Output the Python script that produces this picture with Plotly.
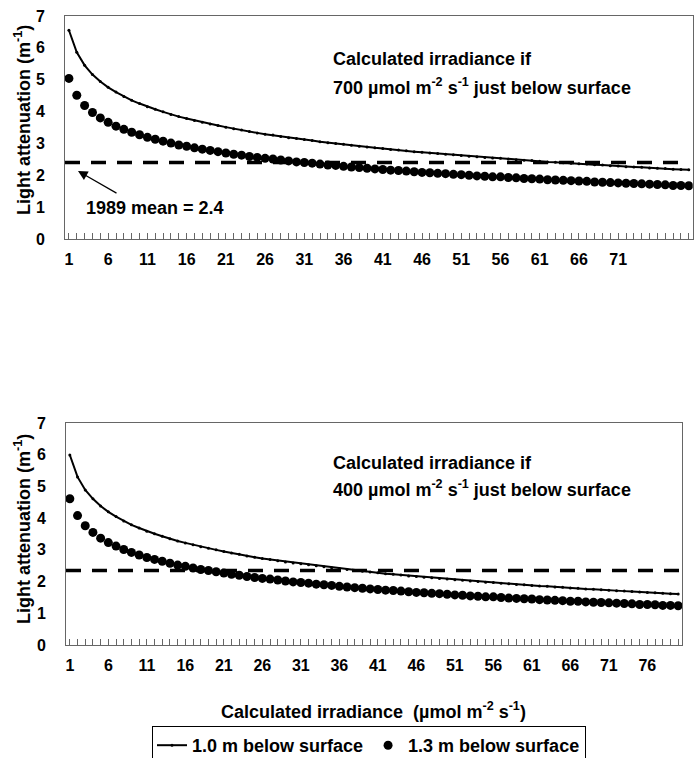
import plotly.graph_objects as go

# Calculated irradiance (umol m-2 s-1), x categories 1..80
irradiance = list(range(1, 81))

# Top panel: 700 umol m-2 s-1 just below surface
top_1m0 = [6.55, 5.86, 5.45, 5.16, 4.94, 4.76, 4.61, 4.47, 4.35, 4.25,
           4.15, 4.07, 3.99, 3.91, 3.84, 3.78, 3.72, 3.66, 3.61, 3.56,
           3.51, 3.46, 3.42, 3.37, 3.33, 3.29, 3.26, 3.22, 3.18, 3.15,
           3.12, 3.09, 3.05, 3.02, 3.00, 2.97, 2.94, 2.91, 2.89, 2.86,
           2.84, 2.81, 2.79, 2.77, 2.74, 2.72, 2.70, 2.68, 2.66, 2.64,
           2.62, 2.60, 2.58, 2.56, 2.54, 2.53, 2.51, 2.49, 2.47, 2.46,
           2.44, 2.42, 2.41, 2.39, 2.38, 2.36, 2.35, 2.33, 2.32, 2.30,
           2.29, 2.27, 2.26, 2.25, 2.23, 2.22, 2.21, 2.19, 2.18, 2.17]
top_1m3 = [5.04, 4.51, 4.19, 3.97, 3.80, 3.66, 3.54, 3.44, 3.35, 3.27,
           3.19, 3.13, 3.07, 3.01, 2.95, 2.91, 2.86, 2.82, 2.78, 2.74,
           2.70, 2.66, 2.63, 2.59, 2.56, 2.53, 2.51, 2.48, 2.45, 2.42,
           2.40, 2.38, 2.35, 2.32, 2.31, 2.28, 2.26, 2.24, 2.22, 2.20,
           2.18, 2.16, 2.15, 2.13, 2.11, 2.09, 2.08, 2.06, 2.05, 2.03,
           2.02, 2.00, 1.98, 1.97, 1.95, 1.95, 1.93, 1.92, 1.90, 1.89,
           1.88, 1.86, 1.85, 1.84, 1.83, 1.82, 1.81, 1.79, 1.78, 1.77,
           1.76, 1.75, 1.74, 1.73, 1.72, 1.71, 1.70, 1.68, 1.68, 1.67]

# Bottom panel: 400 umol m-2 s-1 just below surface
bot_1m0 = [5.99, 5.30, 4.89, 4.61, 4.38, 4.20, 4.05, 3.91, 3.79, 3.69,
           3.59, 3.51, 3.43, 3.35, 3.28, 3.22, 3.16, 3.10, 3.05, 3.00,
           2.95, 2.90, 2.86, 2.81, 2.77, 2.73, 2.70, 2.66, 2.62, 2.59,
           2.56, 2.53, 2.50, 2.47, 2.44, 2.41, 2.38, 2.35, 2.33, 2.30,
           2.28, 2.25, 2.23, 2.21, 2.18, 2.16, 2.14, 2.12, 2.10, 2.08,
           2.06, 2.04, 2.02, 2.00, 1.98, 1.97, 1.95, 1.93, 1.91, 1.90,
           1.88, 1.86, 1.85, 1.83, 1.82, 1.80, 1.79, 1.77, 1.76, 1.74,
           1.73, 1.71, 1.70, 1.69, 1.67, 1.66, 1.65, 1.63, 1.62, 1.61]
bot_1m3 = [4.61, 4.08, 3.76, 3.55, 3.37, 3.23, 3.12, 3.01, 2.92, 2.84,
           2.76, 2.70, 2.64, 2.58, 2.52, 2.48, 2.43, 2.38, 2.35, 2.31,
           2.27, 2.23, 2.20, 2.16, 2.13, 2.10, 2.08, 2.05, 2.02, 1.99,
           1.97, 1.95, 1.92, 1.90, 1.88, 1.85, 1.83, 1.81, 1.79, 1.77,
           1.75, 1.73, 1.72, 1.70, 1.68, 1.66, 1.65, 1.63, 1.62, 1.60,
           1.58, 1.57, 1.55, 1.54, 1.52, 1.52, 1.50, 1.48, 1.47, 1.46,
           1.45, 1.43, 1.42, 1.41, 1.40, 1.38, 1.38, 1.36, 1.35, 1.34,
           1.33, 1.32, 1.31, 1.30, 1.28, 1.28, 1.27, 1.25, 1.25, 1.24]

mean_top = 2.4
mean_bot = 2.35
mean_x = [0.5, 79.5]
mean_x_bot = [0.5, 80.5]

top_ticks = [1, 6, 11, 16, 21, 26, 31, 36, 41, 46, 51, 56, 61, 66, 71]
bot_ticks = [1, 6, 11, 16, 21, 26, 31, 36, 41, 46, 51, 56, 61, 66, 71, 76]
y_ticks = [0, 1, 2, 3, 4, 5, 6, 7]

FONT = "Liberation Sans, Arial, sans-serif"
TEXT = dict(family=FONT, size=18, color="black", weight="bold")
TICK = dict(family=FONT, size=16, color="black", weight="bold")

fig = go.Figure()

def add_panel(xa, ya, y10, y13, mean, mx, show_legend):
    fig.add_trace(go.Scatter(
        x=mx, y=[mean, mean], xaxis=xa, yaxis=ya, mode="lines",
        line=dict(color="black", width=3.5, dash="15px,11px"),
        showlegend=False, hoverinfo="skip"))
    fig.add_trace(go.Scatter(
        x=irradiance, y=y10, xaxis=xa, yaxis=ya, mode="lines+markers",
        name="1.0 m below surface", legendgroup="a", showlegend=show_legend,
        line=dict(color="black", width=2), marker=dict(size=3, color="black")))
    fig.add_trace(go.Scatter(
        x=irradiance, y=y13, xaxis=xa, yaxis=ya, mode="markers",
        name="1.3 m below surface", legendgroup="b", showlegend=show_legend,
        marker=dict(size=9, color="black")))

add_panel("x", "y", top_1m0, top_1m3, mean_top, mean_x, True)
add_panel("x2", "y2", bot_1m0, bot_1m3, mean_bot, mean_x_bot, False)

xcommon = dict(range=[0.5, 80.5], showgrid=False, zeroline=False,
               showline=True, linecolor="#666", linewidth=1, mirror=True,
               ticks="inside", ticklen=6, tickcolor="#666",
               minor=dict(dtick=1, tick0=1, ticks="inside", ticklen=6, tickcolor="#666"),
               tickfont=TICK, ticklabelstandoff=6)
ycommon = dict(range=[0, 7], tickvals=y_ticks, showgrid=False, zeroline=False,
               showline=True, linecolor="#666", linewidth=1, mirror=True,
               ticks="", tickfont=TICK, ticklabelstandoff=16)

fig.update_layout(
    width=699, height=758, margin=dict(l=0, r=0, t=0, b=0, autoexpand=False),
    paper_bgcolor="white", plot_bgcolor="white",
    xaxis=dict(xcommon, domain=[0.093, 0.991], anchor="y", tickvals=top_ticks),
    yaxis=dict(ycommon, domain=[0.6847, 0.979], anchor="x"),
    xaxis2=dict(xcommon, domain=[0.0944, 0.9757], anchor="y2", tickvals=bot_ticks),
    yaxis2=dict(ycommon, domain=[0.149, 0.442], anchor="x2"),
    legend=dict(orientation="h", x=152 / 699, y=1 - 726 / 758, xanchor="left", yanchor="top",
                bordercolor="black", borderwidth=1, font=TEXT,
                itemwidth=30, tracegroupgap=0),
    showlegend=True,
)

ytitle = "Light attenuation (m<sup>-1</sup>)"
ann = [
    dict(text=ytitle, x=22 / 699, y=1 - 120 / 758, textangle=-90, xanchor="center", yanchor="middle"),
    dict(text=ytitle, x=22 / 699, y=1 - 529 / 758, textangle=-90, xanchor="center", yanchor="middle"),
    dict(text="Calculated irradiance if", x=332 / 699, y=1 - 59 / 758, xanchor="left", yanchor="middle"),
    dict(text="700 µmol m<sup>-2</sup> s<sup>-1</sup> just below surface",
         x=332 / 699, y=1 - 86 / 758, xanchor="left", yanchor="middle"),
    dict(text="Calculated irradiance if", x=332 / 699, y=1 - 463 / 758, xanchor="left", yanchor="middle"),
    dict(text="400 µmol m<sup>-2</sup> s<sup>-1</sup> just below surface",
         x=332 / 699, y=1 - 488 / 758, xanchor="left", yanchor="middle"),
    dict(text="1989 mean = 2.4", x=85 / 699, y=1 - 208 / 758, xanchor="left", yanchor="middle"),
    dict(text="Calculated irradiance  (µmol m<sup>-2</sup> s<sup>-1</sup>)",
         x=373 / 699, y=1 - 710 / 758, xanchor="center", yanchor="middle"),
]
for a in ann:
    fig.add_annotation(xref="paper", yref="paper", showarrow=False, borderpad=0,
                       font=TEXT, **a)

# arrow pointing to the mean line
fig.add_annotation(xref="paper", yref="paper", axref="pixel", ayref="pixel",
                   x=78 / 699, y=1 - 171 / 758, ax=40, ay=23, text="",
                   showarrow=True, arrowhead=2, arrowsize=1.6, arrowwidth=1.2,
                   arrowcolor="black")

fig.write_html("out.html", config={"displayModeBar": False},
               post_script="document.body.style.margin='0';document.body.style.padding='0';")
